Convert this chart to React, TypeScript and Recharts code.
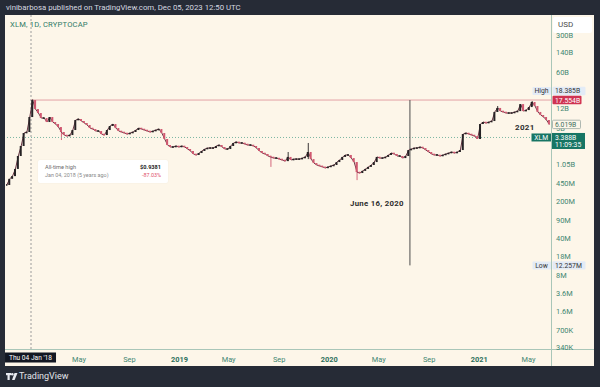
import React from 'react';
import { ComposedChart, Bar, Line, XAxis, YAxis, ReferenceLine } from 'recharts';

// weekly closes of XLM market cap, in billions USD
const firstWeek = '2017-11-06';
const weeklyClose = [
  0.42, 0.55, 0.62, 0.85, 1.5, 2.33, 4.12, 4.31, 8.32, 17.55,
  11.8, 9.92, 7.96, 7.96, 6.68, 8.32, 6.68, 6.12, 5.36, 4.31,
  3.77, 3.61, 3.77, 4.7, 7.3, 7.62, 6.98, 6.39, 5.86, 5.13,
  4.91, 4.5, 4.5, 3.94, 3.77, 4.7, 5.61, 6.12, 5.13, 4.5,
  4.31, 4.12, 3.94, 4.12, 4.31, 4.7, 5.13, 4.91, 4.7, 4.5,
  4.31, 4.5, 4.7, 4.91, 4.12, 3.17, 2.43, 2.23, 2.23, 2.33,
  2.23, 2.33, 2.23, 2.04, 1.87, 1.64, 1.57, 1.71, 1.87, 2.04,
  2.13, 2.13, 2.13, 2.33, 2.43, 2.23, 2.04, 2.04, 2.33, 2.66,
  2.78, 2.66, 2.66, 2.54, 2.43, 2.43, 2.33, 2.13, 1.87, 1.71,
  1.64, 1.5, 1.44, 1.37, 1.37, 1.31, 1.26, 1.2, 1.44, 1.26,
  1.31, 1.31, 1.31, 1.37, 1.44, 1.79, 1.31, 1.1, 1.01, 0.97,
  0.93, 0.89, 0.93, 0.97, 1.01, 1.15, 1.26, 1.44, 1.57, 1.57,
  1.37, 1.15, 0.74, 0.71, 0.78, 0.85, 0.93, 1.01, 1.15, 1.44,
  1.37, 1.37, 1.44, 1.57, 1.71, 1.64, 1.5, 1.5, 1.37, 1.5,
  1.95, 2.04, 2.13, 2.13, 2.23, 2.13, 1.95, 1.79, 1.64, 1.57,
  1.57, 1.5, 1.57, 1.64, 1.71, 1.79, 1.71, 1.79, 1.95, 3.94,
  4.12, 3.94, 3.77, 3.61, 3.17, 6.12, 6.68, 6.39, 6.68, 6.98,
  10.4, 12.4, 10.8, 10.4, 9.92, 9.92, 9.92, 10.4, 10.8, 14.7,
  10.8, 11.3, 12.9, 16.1, 13.5, 10.4, 9.09, 8.32, 7.3, 6.02,
];

// weeks with long wicks (index into weeklyClose), low / high in billions
const wickWeeks = [9, 19, 92, 98, 105, 122, 171, 183];
const wickLows = [11.8, 3.03, 0.93, 1.2, 1.31, 0.52, 10.4, 13.5];
const wickHighs = [18.385, 4.5, 1.44, 1.79, 2.66, 1.15, 13.5, 16.8];

const priceTicks = [0.00034, 0.0007, 0.0016, 0.0036, 0.008, 0.018, 0.04, 0.09, 0.2, 0.45, 1.05, 2.3, 5, 12, 27, 60, 140, 300];
const priceTickLabels = ['340K', '700K', '1.6M', '3.6M', '8M', '18M', '40M', '90M', '200M', '450M', '1.05B', '2.3B', '5B', '12B', '27B', '60B', '140B', '300B'];

const timeTicks = ['2018-05-01', '2018-09-01', '2019-01-01', '2019-05-01', '2019-09-01', '2020-01-01', '2020-05-01', '2020-09-01', '2021-01-01', '2021-05-01'];
const timeTickLabels = ['May', 'Sep', '2019', 'May', 'Sep', '2020', 'May', 'Sep', '2021', 'May'];

const viewStart = '2017-11-04';
const viewEnd = '2021-06-25';
const priceMin = 0.000311;
const priceMax = 737;

const athDate = '2018-01-04';
const athClose = 17.554;
const athHigh = 18.385;
const atlLow = 0.012257;
const lastClose = 6.019;
const currentPrice = 3.388;
const annotationDate = '2020-07-16';

const DAY = 86400000;
const FONT = 'Roboto, "Liberation Sans", sans-serif';
const FRAME = '#262b36';
const CREAM = '#fdf6e9';
const SEP = '#a9c6b8';
const AXIS_TEXT = '#3f8672';
const UP = '#262224';
const DOWN = '#d05870';
const TAG_BG = '#e3ebf6';

const candles = weeklyClose.map((close, i) => {
  const open = i === 0 ? close : weeklyClose[i - 1];
  const w = wickWeeks.indexOf(i);
  return {
    t: Date.parse(firstWeek) + i * 7 * DAY,
    open,
    close,
    body: [Math.min(open, close), Math.max(open, close)],
    wick: w >= 0 ? [wickLows[w], wickHighs[w]] : undefined,
  };
});

const timeTickValues = timeTicks.map((d) => Date.parse(d));
const chartMargin = { top: 15, right: 6, bottom: 21, left: 6 };

function CandleShape(props: any) {
  const { x, y, width, height, payload } = props;
  if (x == null || y == null) return null;
  const up = payload.close >= payload.open;
  const h = Math.abs(height);
  const top = height < 0 ? y + height : y;
  const minH = 1.6;
  return (
    <rect
      x={x}
      y={h < minH ? top - (minH - h) / 2 : top}
      width={width}
      height={Math.max(h, minH)}
      fill={up ? UP : DOWN}
    />
  );
}

function WickShape(props: any) {
  const { x, y, width, height, payload } = props;
  if (x == null || y == null || !payload.wick) return null;
  const up = payload.close >= payload.open;
  const h = Math.abs(height);
  const top = height < 0 ? y + height : y;
  return <rect x={x} y={top} width={width} height={h} fill={up ? UP : DOWN} />;
}

function PriceTick({ x, y, payload }: any) {
  const i = priceTicks.indexOf(payload.value);
  return (
    <text x={x} y={y} dy={2.6} fontSize={7.4} fill={AXIS_TEXT} fontFamily={FONT} textAnchor="start">
      {priceTickLabels[i]}
    </text>
  );
}

function TimeTick({ x, y, payload }: any) {
  const i = timeTickValues.indexOf(payload.value);
  const label = timeTickLabels[i];
  const year = /^\d{4}$/.test(label);
  return (
    <text
      x={x}
      y={y + 11.2}
      fontSize={7.4}
      fill={year ? '#2c6f5c' : AXIS_TEXT}
      fontWeight={year ? 700 : 400}
      fontFamily={FONT}
      textAnchor="middle"
    >
      {label}
    </text>
  );
}

// crosshair date box under the dashed line
function DateBox({ viewBox }: any) {
  if (!viewBox) return null;
  const cx = viewBox.x;
  const bottom = viewBox.y + viewBox.height;
  return (
    <g>
      <rect x={cx - 26} y={bottom + 3.5} width={51} height={10} fill="#131722" />
      <text x={cx - 0.5} y={bottom + 11} fontSize={6.6} fill="#ffffff" textAnchor="middle" fontFamily={FONT}>
        Thu 04 Jan '18
      </text>
    </g>
  );
}

function AxisTag({ viewBox, text, fill, color, stroke, dy = 0, width = 29, side }: any) {
  if (!viewBox) return null;
  const ax = viewBox.x + viewBox.width;
  const cy = viewBox.y + dy;
  return (
    <g>
      {side && (
        <g>
          <rect x={ax - 18.5} y={cy - 4} width={18.5} height={8} fill={TAG_BG} rx={1} />
          <text x={ax - 9.5} y={cy + 2.5} fontSize={6.8} fill="#333" textAnchor="middle" fontFamily={FONT}>
            {side}
          </text>
        </g>
      )}
      <rect
        x={ax + 1.5}
        y={cy - 4.2}
        width={width}
        height={8.4}
        fill={fill}
        stroke={stroke || 'none'}
        strokeWidth={0.8}
        rx={1}
      />
      <text x={ax + 4} y={cy + 2.5} fontSize={6.8} fill={color} fontFamily={FONT}>
        {text}
      </text>
    </g>
  );
}

function CurrentTag({ viewBox }: any) {
  if (!viewBox) return null;
  const ax = viewBox.x + viewBox.width;
  const cy = viewBox.y;
  return (
    <g>
      <rect x={ax - 19.5} y={cy - 4} width={19.5} height={8} fill="#177564" />
      <text x={ax - 9.7} y={cy + 2.5} fontSize={6.8} fill="#fff" textAnchor="middle" fontFamily={FONT}>
        XLM
      </text>
      <rect x={ax + 1} y={cy - 4.5} width={33} height={16} fill="#177564" />
      <text x={ax + 4} y={cy + 2.5} fontSize={6.8} fill="#fff" fontFamily={FONT}>
        3.388B
      </text>
      <text x={ax + 4} y={cy + 10} fontSize={6.8} fill="#fff" fontFamily={FONT}>
        11:09:35
      </text>
    </g>
  );
}

const xAxisProps = {
  dataKey: 't',
  type: 'number' as const,
  scale: 'time' as const,
  domain: [Date.parse(viewStart), Date.parse(viewEnd)],
  allowDataOverflow: true,
  ticks: timeTickValues,
  interval: 0 as const,
  tickLine: false,
  axisLine: false,
  tickSize: 0,
  height: 17,
};

const yAxisProps = {
  orientation: 'right' as const,
  scale: 'log' as const,
  domain: [priceMin, priceMax],
  allowDataOverflow: true,
  ticks: priceTicks,
  interval: 0 as const,
  tickLine: false,
  axisLine: false,
  tickSize: 0,
  tickMargin: 5,
  width: 43,
};

export default function App() {
  return (
    <div
      style={{
        position: 'absolute',
        left: 0,
        top: 0,
        width: 600,
        height: 387,
        background: FRAME,
        overflow: 'hidden',
        fontFamily: FONT,
      }}
    >
      <div style={{ position: 'absolute', left: 6, top: 3, fontSize: 7.8, color: '#d6d9e0', whiteSpace: 'nowrap' }}>
        vinibarbosa published on TradingView.com, Dec 05, 2023 12:50 UTC
      </div>
      <div style={{ position: 'absolute', left: 5, top: 15, width: 589, height: 351, background: CREAM }} />
      <div style={{ position: 'absolute', left: 551, top: 15, width: 1, height: 351, background: SEP }} />
      <div style={{ position: 'absolute', left: 5, top: 349, width: 589, height: 1, background: SEP }} />

      {/* base layer: axes, guide lines, close line, wicks */}
      <div style={{ position: 'absolute', left: 0, top: 0 }}>
        <ComposedChart width={600} height={387} data={candles} margin={chartMargin}>
          <XAxis {...xAxisProps} tick={<TimeTick />} />
          <YAxis {...yAxisProps} tick={<PriceTick />} />
          <ReferenceLine x={Date.parse(athDate)} stroke="#9c9c9c" strokeDasharray="2 2" label={<DateBox />} />
          <ReferenceLine y={currentPrice} stroke="#7bb7a2" strokeDasharray="1 2" />
          <ReferenceLine
            segment={[
              { x: Date.parse(athDate), y: athClose },
              { x: Date.parse(viewEnd), y: athClose },
            ]}
            stroke="#e3a2a6"
            strokeWidth={1}
          />
          <ReferenceLine
            segment={[
              { x: Date.parse(annotationDate), y: athClose },
              { x: Date.parse(annotationDate), y: atlLow },
            ]}
            stroke="#4d4d4d"
            strokeWidth={1}
          />
          <Bar dataKey="wick" barSize={0.9} isAnimationActive={false} shape={<WickShape />} />
          <Line dataKey="close" stroke="#6a3443" strokeWidth={1} dot={false} isAnimationActive={false} />
        </ComposedChart>
      </div>

      {/* top layer: candle bodies and price tags */}
      <div style={{ position: 'absolute', left: 0, top: 0 }}>
        <ComposedChart width={600} height={387} data={candles} margin={chartMargin}>
          <XAxis {...xAxisProps} tick={false} />
          <YAxis {...yAxisProps} tick={false} />
          <Bar dataKey="body" barSize={2} isAnimationActive={false} shape={<CandleShape />} />
          <ReferenceLine
            y={athHigh}
            stroke="none"
            label={<AxisTag text="18.385B" fill={TAG_BG} color="#333" dy={-8} width={33} side="High" />}
          />
          <ReferenceLine y={athClose} stroke="none" label={<AxisTag text="17.554B" fill="#cf3352" color="#fff" />} />
          <ReferenceLine y={lastClose} stroke="none" label={<AxisTag text="6.019B" fill={CREAM} color="#3f6f62" stroke="#9aa8a2" width={28} />} />
          <ReferenceLine y={currentPrice} stroke="none" label={<CurrentTag />} />
          <ReferenceLine
            y={atlLow}
            stroke="none"
            label={<AxisTag text="12.257M" fill={TAG_BG} color="#333" width={33} side="Low" />}
          />
        </ComposedChart>
      </div>

      <div style={{ position: 'absolute', left: 553, top: 17, width: 39, height: 16, background: '#ffffff', borderRadius: 2 }} />
      <div style={{ position: 'absolute', left: 558, top: 19.5, fontSize: 8, color: '#4a4a4a' }}>USD</div>

      <div style={{ position: 'absolute', left: 10, top: 20, fontSize: 7.6, color: '#2f7a66', letterSpacing: 0.2 }}>
        XLM, 1D, CRYPTOCAP
      </div>

      <div
        style={{
          position: 'absolute',
          left: 38,
          top: 160,
          width: 130,
          height: 23,
          background: '#ffffff',
          borderRadius: 2,
          boxShadow: '0 0 2px rgba(0,0,0,0.06)',
        }}
      >
        <div style={{ position: 'absolute', left: 7, top: 4, fontSize: 5.6, color: '#6b6b6b' }}>All-time high</div>
        <div style={{ position: 'absolute', right: 7, top: 4, fontSize: 5.6, color: '#222', fontWeight: 700 }}>$0.9381</div>
        <div style={{ position: 'absolute', left: 7, top: 12, fontSize: 5.4, color: '#8a8a8a' }}>
          Jan 04, 2018 (5 years ago)
        </div>
        <div style={{ position: 'absolute', right: 7, top: 12, fontSize: 5.4, color: '#e0506a' }}>-87.03%</div>
      </div>

      <div style={{ position: 'absolute', left: 350, top: 198.5, fontSize: 7.8, fontWeight: 700, color: '#2e2e2e', letterSpacing: 0.3 }}>
        June 16, 2020
      </div>
      <div style={{ position: 'absolute', left: 515, top: 122.5, fontSize: 8, fontWeight: 700, color: '#2e2e2e', letterSpacing: 0.3 }}>
        2021
      </div>

      <svg style={{ position: 'absolute', left: 6, top: 373 }} width={12} height={8}>
        <rect x={0} y={0} width={5} height={2.2} fill="#e8eaf0" />
        <rect x={1.5} y={0} width={2.2} height={7} fill="#e8eaf0" />
        <circle cx={6.3} cy={1.3} r={1.3} fill="#e8eaf0" />
        <path d="M8.5 0 L11.5 0 L8.6 7 L6 7 Z" fill="#e8eaf0" />
      </svg>
      <div style={{ position: 'absolute', left: 19, top: 371, fontSize: 9, color: '#e3e5ea' }}>TradingView</div>
    </div>
  );
}
